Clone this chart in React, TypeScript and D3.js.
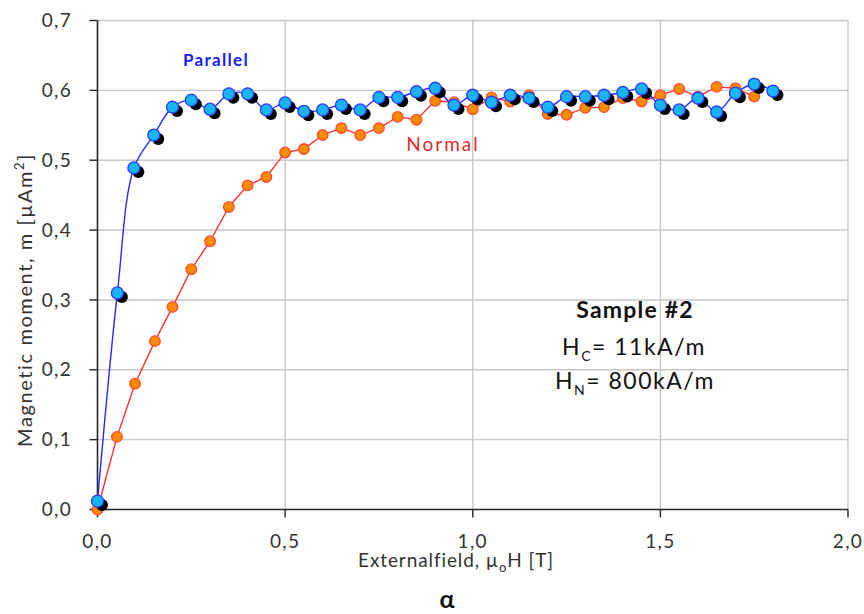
import React from 'react';
import * as d3 from 'd3';

const parallelField = [0, 0.053, 0.097, 0.15, 0.2, 0.25, 0.3, 0.35, 0.4, 0.45, 0.5, 0.55, 0.6, 0.65, 0.7, 0.75, 0.8, 0.85, 0.9, 0.95, 1.0, 1.05, 1.1, 1.15, 1.2, 1.25, 1.3, 1.35, 1.4, 1.45, 1.5, 1.55, 1.6, 1.65, 1.7, 1.75, 1.8];
const parallelMoment = [0.012, 0.31, 0.489, 0.536, 0.576, 0.586, 0.573, 0.595, 0.595, 0.572, 0.582, 0.570, 0.572, 0.579, 0.572, 0.590, 0.590, 0.598, 0.603, 0.579, 0.593, 0.583, 0.593, 0.589, 0.576, 0.591, 0.591, 0.593, 0.597, 0.602, 0.579, 0.572, 0.589, 0.569, 0.596, 0.609, 0.599];

const normalField = [0, 0.052, 0.1, 0.153, 0.2, 0.25, 0.3, 0.35, 0.4, 0.45, 0.5, 0.55, 0.6, 0.65, 0.7, 0.75, 0.8, 0.85, 0.9, 0.95, 1.0, 1.05, 1.1, 1.15, 1.2, 1.25, 1.3, 1.35, 1.4, 1.45, 1.5, 1.55, 1.6, 1.65, 1.7, 1.75];
const normalMoment = [0.0, 0.104, 0.180, 0.241, 0.290, 0.344, 0.384, 0.433, 0.464, 0.476, 0.511, 0.516, 0.536, 0.546, 0.536, 0.546, 0.562, 0.558, 0.585, 0.583, 0.573, 0.590, 0.584, 0.593, 0.566, 0.565, 0.575, 0.576, 0.589, 0.584, 0.593, 0.602, 0.591, 0.605, 0.603, 0.591];

const xTicks = [0, 0.5, 1.0, 1.5, 2.0];
const yTicks = [0, 0.1, 0.2, 0.3, 0.4, 0.5, 0.6, 0.7];

const FONT = 'Lato, "Open Sans", sans-serif';

export default function App() {
  const x = d3.scaleLinear().domain([0, 2]).range([97.5, 848]);
  const y = d3.scaleLinear().domain([0, 0.7]).range([509.5, 20.5]);
  const fmt = (v: number) => d3.format('.1f')(v).replace('.', ',');

  const par = parallelField.map((f, i) => [f, parallelMoment[i]] as [number, number]);
  const nor = normalField.map((f, i) => [f, normalMoment[i]] as [number, number]);

  const blueLine = d3.line<[number, number]>().x(d => x(d[0])).y(d => y(d[1])).curve(d3.curveCatmullRom.alpha(0.5));
  const redLine = d3.line<[number, number]>().x(d => x(d[0])).y(d => y(d[1]));

  const [x0, x1] = x.range();
  const [y0, y1] = y.range();

  return (
    <svg width={864} height={614} style={{ position: 'absolute', left: 0, top: 0, background: '#fff' }} fontFamily={FONT}>
      <defs>
        <filter id="shadowBlur" x="-50%" y="-50%" width="200%" height="200%">
          <feGaussianBlur stdDeviation="0.6" />
        </filter>
      </defs>
      {/* gridlines */}
      {yTicks.filter(t => t > 0).map(t => (
        <line key={'gy' + t} x1={x0} x2={x1} y1={y(t)} y2={y(t)} stroke="#c8c8c8" strokeWidth={1.4} />
      ))}
      {xTicks.filter(t => t > 0).map(t => (
        <line key={'gx' + t} x1={x(t)} x2={x(t)} y1={y1} y2={y0} stroke="#c8c8c8" strokeWidth={1.4} />
      ))}
      {/* axes */}
      <line x1={x0} x2={x0} y1={y1} y2={y0} stroke="#262626" strokeWidth={1.6} />
      <line x1={x0} x2={x1} y1={y0} y2={y0} stroke="#262626" strokeWidth={1.6} />
      {yTicks.map(t => (
        <g key={'ty' + t}>
          <line x1={x0 - 8} x2={x0} y1={y(t)} y2={y(t)} stroke="#262626" strokeWidth={1.4} />
          <text x={72} y={y(t)} dy="0.35em" textAnchor="end" fontSize={19} fill="#333" letterSpacing={1.3}>{fmt(t)}</text>
        </g>
      ))}
      {xTicks.map(t => (
        <g key={'tx' + t}>
          <line x1={x(t)} x2={x(t)} y1={y0} y2={y0 + 8} stroke="#262626" strokeWidth={1.4} />
          <text x={x(t)} y={541} dy="0.35em" textAnchor="middle" fontSize={19} fill="#333" letterSpacing={1.3}>{fmt(t)}</text>
        </g>
      ))}
      {/* axis titles */}
      <text transform="translate(25,300) rotate(-90)" textAnchor="middle" dy="0.35em" fontSize={20} fill="#333" letterSpacing={1.6}>
        Magnetic moment, m [µAm<tspan dy="-8" fontSize={13}>2</tspan><tspan dy="8">]</tspan>
      </text>
      <text x={456} y={560} dy="0.35em" textAnchor="middle" fontSize={19} fill="#333" letterSpacing={0.9}>
        Externalfield, µ<tspan dy="5" fontSize={13}>o</tspan><tspan dy="-5">H [T]</tspan>
      </text>
      <text x={447} y={599} dy="0.35em" textAnchor="middle" fontSize={25} fontWeight="bold" fill="#111">α</text>

      {/* Normal series */}
      <path d={redLine(nor) || ''} fill="none" stroke="#ff3333" strokeWidth={1.4} />
      {nor.map((d, i) => (
        <circle key={'n' + i} cx={x(d[0])} cy={y(d[1])} r={5.3} fill="#ff8c00" stroke="#ff4a3a" strokeWidth={1.3} />
      ))}

      {/* Parallel series */}
      <path d={blueLine(par) || ''} fill="none" stroke="#2a2aff" strokeWidth={1.4} />
      {par.map((d, i) => (
        <circle key={'ps' + i} cx={x(d[0]) + 4.5} cy={y(d[1]) + 4} r={6} fill="#000" filter="url(#shadowBlur)" />
      ))}
      {par.map((d, i) => (
        <circle key={'p' + i} cx={x(d[0])} cy={y(d[1])} r={6} fill="#19b4f7" stroke="#2a3cff" strokeWidth={1.3} />
      ))}

      {/* labels */}
      <text x={216} y={60} dy="0.35em" textAnchor="middle" fontSize={17} fontWeight="bold" fill="#1a1aff" letterSpacing={1.3}>Parallel</text>
      <text x={443} y={144} dy="0.35em" textAnchor="middle" fontSize={19} fill="#e02a2a" letterSpacing={2}>Normal</text>

      <text x={635} y={310} dy="0.35em" textAnchor="middle" fontSize={23} fontWeight="bold" fill="#111" letterSpacing={1.2}>Sample #2</text>
      <text x={634} y={347} dy="0.35em" textAnchor="middle" fontSize={23} fill="#111" letterSpacing={1.5}>
        H<tspan dy="6" fontSize={14}>C</tspan><tspan dy="-6">= 11kA/m</tspan>
      </text>
      <text x={635} y={381} dy="0.35em" textAnchor="middle" fontSize={23} fill="#111" letterSpacing={1.5}>
        H<tspan dy="6" fontSize={14}>N</tspan><tspan dy="-6">= 800kA/m</tspan>
      </text>
    </svg>
  );
}
